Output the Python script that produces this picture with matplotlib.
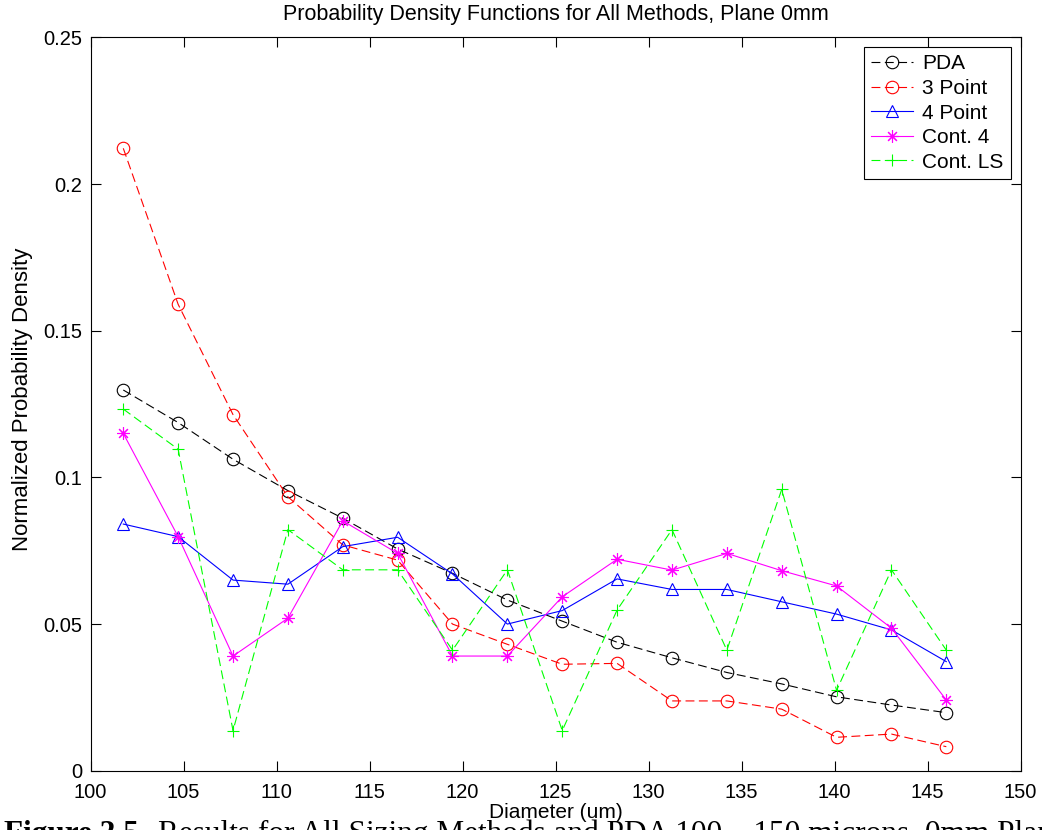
import matplotlib
matplotlib.use("Agg")
import matplotlib.pyplot as plt
from matplotlib.markers import MarkerStyle

plt.rcParams['font.family'] = ['Liberation Sans', 'DejaVu Sans']

# bin centres (um) and normalised densities per method
diameter = [101.76, 104.71, 107.66, 110.61, 113.56, 116.51, 119.46, 122.41,
            125.36, 128.31, 131.26, 134.21, 137.16, 140.11, 143.06, 146.01]

pda = [0.1298, 0.1187, 0.1062, 0.0955, 0.0861, 0.0756, 0.0673, 0.0582,
       0.0510, 0.0438, 0.0385, 0.0335, 0.0296, 0.0252, 0.0224, 0.0198]
three_pt = [0.2122, 0.1590, 0.1214, 0.0934, 0.0770, 0.0718, 0.0500, 0.0431,
            0.0363, 0.0366, 0.0238, 0.0238, 0.0210, 0.0114, 0.0125, 0.0082]
four_pt = [0.0841, 0.0798, 0.0650, 0.0636, 0.0764, 0.0796, 0.0671, 0.0500,
           0.0546, 0.0654, 0.0618, 0.0618, 0.0576, 0.0534, 0.0480, 0.0372]
cont4 = [0.1150, 0.0798, 0.0391, 0.0520, 0.0852, 0.0741, 0.0391, 0.0391,
         0.0593, 0.0721, 0.0684, 0.0741, 0.0682, 0.0630, 0.0486, 0.0241]
cont_ls = [0.1233, 0.1096, 0.0137, 0.0822, 0.0685, 0.0685, 0.0411, 0.0685,
           0.0137, 0.0548, 0.0822, 0.0411, 0.0959, 0.0274, 0.0685, 0.0411]

labels = ['PDA', '3 Point', '4 Point', 'Cont. 4', 'Cont. LS']
xticks = [100, 105, 110, 115, 120, 125, 130, 135, 140, 145, 150]
yticks = [0, 0.05, 0.1, 0.15, 0.2, 0.25]
ytick_labels = ['0', '0.05', '0.1', '0.15', '0.2', '0.25']

fig = plt.figure(figsize=(10.42, 8.3), dpi=100)
ax = fig.add_axes([0.0869, 0.0714, 0.8925, 0.8835])

asterisk = MarkerStyle((8, 2, 0))
dash = (0, (8, 4))
common = dict(lw=0.8, ms=9, mew=0.8, mfc='none')

ax.plot(diameter, pda, color='k', marker='o', ls=dash, label=labels[0], **common)
ax.plot(diameter, three_pt, color='#ff0000', marker='o', ls=dash, label=labels[1], **common)
ax.plot(diameter, four_pt, color='#0000ff', marker='^', ls='-', label=labels[2], **common)
ax.plot(diameter, cont4, color='#ff00ff', marker=asterisk, ls='-', label=labels[3], **common)
ax.plot(diameter, cont_ls, color='#00ff00', marker='+', ls=dash, label=labels[4], **common)

ax.set_xlim(100, 150)
ax.set_ylim(0, 0.25)
ax.set_xticks(xticks)
ax.set_yticks(yticks)
ax.set_yticklabels(ytick_labels)
ax.tick_params(direction='in', length=7, width=0.8, labelsize=14.5,
               top=True, right=True)
ax.tick_params(axis='x', pad=9)
ax.tick_params(axis='y', pad=6)
for s in ax.spines.values():
    s.set_linewidth(0.8)

ax.set_title('Probability Density Functions for All Methods, Plane 0mm',
             fontsize=15.5, pad=12.5)
ax.set_xlabel('Diameter (um)', fontsize=15)
ax.xaxis.set_label_coords(0.5, -0.044)
ax.set_ylabel('Normalized Probability Density', fontsize=16)
ax.yaxis.set_label_coords(-0.062, 0.507)

leg = ax.legend(loc='upper right', bbox_to_anchor=(0.9898, 0.987),
                borderaxespad=0, fontsize=15, handlelength=2.0,
                labelspacing=0.27, fancybox=False, edgecolor='k',
                framealpha=1, borderpad=0.35, handletextpad=0.45)
leg.get_frame().set_linewidth(0.8)

# figure caption running off the bottom edge
fig.text(0.004, -0.0148, 'Figure 2.5', fontsize=22.5, fontweight='bold',
         family='Liberation Serif', va='baseline')
fig.text(0.152, -0.0148,
         'Results for All Sizing Methods and PDA 100 \u2013 150 microns, 0mm Plane',
         fontsize=22.5, family='Liberation Serif', va='baseline')

fig.savefig('out.png', dpi=100)
